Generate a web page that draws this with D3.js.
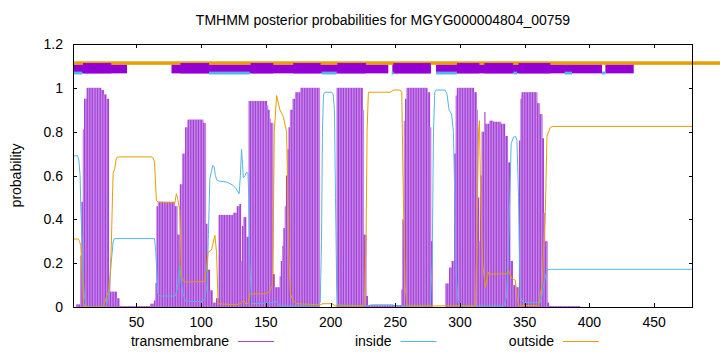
<!DOCTYPE html>
<html>
<head>
<meta charset="utf-8">
<script src="https://cdn.jsdelivr.net/npm/d3@7"></script>
<style>
  body { margin: 0; background: #fff; }
  svg { display: block; font-family: "Liberation Sans", Arial, sans-serif; }
  .lbl { font-size: 14px; fill: #000; }
</style>
</head>
<body>
<div id="chart"></div>
<script>
// sequence range and ticks
const seqRange = [1, 480];
const xTicks = [50, 100, 150, 200, 250, 300, 350, 400, 450];
const yTicks = [0, 0.2, 0.4, 0.6, 0.8, 1, 1.2];
const titleText = "TMHMM posterior probabilities for MGYG000004804_00759";
const legendLabels = ["transmembrane", "inside", "outside"];

// transmembrane probability as steps: [fromResidue, toResidue, prob]
const tmSteps = [
  [4, 6, 0.012], [7, 7, 0.235], [8, 8, 0.48], [9, 9, 0.81], [10, 11, 0.95],
  [12, 22, 1.0], [23, 24, 0.99], [25, 26, 0.97], [27, 28, 0.95], [29, 29, 0.12],
  [30, 34, 0.07], [35, 36, 0.04], [37, 60, 0.004], [61, 63, 0.015], [64, 64, 0.03],
  [65, 65, 0.11], [66, 66, 0.46], [67, 79, 0.48], [80, 81, 0.46], [82, 83, 0.33],
  [84, 85, 0.56], [86, 87, 0.7], [88, 89, 0.82], [90, 101, 0.855], [102, 103, 0.84],
  [104, 104, 0.38], [105, 106, 0.17], [107, 108, 0.076], [109, 111, 0.02], [112, 113, 0.04],
  [114, 124, 0.42], [125, 127, 0.43], [128, 129, 0.46], [130, 130, 0.47], [131, 131, 0.21],
  [132, 132, 0.37], [133, 134, 0.41], [135, 136, 0.32], [137, 150, 0.94], [151, 151, 0.92],
  [152, 152, 0.9], [153, 153, 0.86], [154, 155, 0.84], [156, 156, 0.15], [157, 160, 0.09],
  [161, 161, 0.14], [162, 162, 0.21], [163, 163, 0.28], [164, 164, 0.36], [165, 165, 0.46],
  [166, 166, 0.6], [167, 167, 0.72], [168, 168, 0.82], [169, 170, 0.9], [171, 172, 0.95],
  [173, 176, 0.98], [177, 191, 1.0], [205, 224, 1.0], [225, 225, 0.9], [226, 227, 0.33],
  [228, 228, 0.05], [229, 254, 0.008], [255, 255, 0.08], [256, 256, 0.4], [257, 257, 0.85],
  [258, 258, 0.95], [259, 274, 1.0], [275, 276, 0.98], [277, 277, 0.82], [278, 278, 0.3],
  [289, 291, 0.107], [292, 293, 0.18], [294, 295, 0.21], [296, 296, 0.7], [297, 297, 0.965],
  [298, 310, 1.0], [311, 312, 0.98], [313, 313, 0.9], [314, 314, 0.5], [315, 315, 0.3],
  [316, 316, 0.6], [317, 318, 0.8], [319, 319, 0.89], [320, 322, 0.836], [323, 325, 0.85],
  [326, 331, 0.845], [332, 334, 0.836], [335, 336, 0.78], [337, 338, 0.66], [339, 340, 0.21],
  [341, 342, 0.1], [343, 345, 0.09], [346, 346, 0.76], [347, 347, 0.95], [348, 359, 0.98],
  [360, 361, 0.93], [362, 363, 0.88], [364, 364, 0.77], [365, 365, 0.43], [366, 367, 0.3],
  [368, 368, 0.02], [369, 392, 0.004]
];

// inside probability [residue, prob]
const insidePoints = [
  [1, 0.69], [4.5, 0.69], [5.5, 0.67], [6.5, 0.6], [7, 0.46], [8, 0.3], [9, 0.12], [10, 0.04],
  [11, 0.01], [12, 0.0], [26, 0.0], [27.5, 0.02], [29, 0.08], [30.5, 0.2], [32, 0.3], [33, 0.312],
  [64, 0.312], [65, 0.25], [66.5, 0.06], [68, 0.05], [80, 0.05], [81.5, 0.08], [82.5, 0.14],
  [83.5, 0.19], [84.8, 0.1], [86, 0.06], [87.7, 0.03], [90, 0.025], [101, 0.025], [103, 0.04],
  [104.5, 0.1], [105.5, 0.3], [106.7, 0.585], [108, 0.62], [109, 0.646], [110, 0.64], [111, 0.6],
  [112, 0.58], [113.5, 0.575], [120, 0.57], [124.7, 0.555], [127, 0.54], [129.4, 0.517],
  [130.3, 0.6], [131.2, 0.72], [132, 0.65], [132.6, 0.59], [134, 0.6], [135, 0.615], [136.2, 0.61],
  [136.8, 0.5], [137.6, 0.2], [139, 0.02], [140, 0.015], [155, 0.02], [157, 0.025], [158.5, 0.025],
  [160, 0.005], [190, 0.005], [192, 0.02], [193, 0.3], [193.7, 0.8], [194.5, 0.97], [195.6, 0.98],
  [201, 0.98], [202, 0.97], [203, 0.9], [203.8, 0.5], [204.7, 0.1], [205.5, 0.01], [228, 0.005],
  [232, 0.01], [248, 0.01], [250, 0.005], [275, 0.005], [277, 0.01], [278.5, 0.2], [279.5, 0.8],
  [280.5, 0.98], [281.5, 0.99], [288.5, 0.99], [290, 0.97], [291.5, 0.9], [293.5, 0.88],
  [294.9, 0.8], [296, 0.5], [297, 0.15], [298.5, 0.02], [300, 0.005], [334, 0.005], [336, 0.05],
  [337, 0.2], [338.5, 0.5], [339.5, 0.745], [341.3, 0.775], [343, 0.778], [344, 0.76],
  [345.2, 0.5], [346.5, 0.045], [349, 0.02], [362, 0.02], [364, 0.076], [366, 0.14],
  [367.5, 0.17], [370, 0.172], [480, 0.172]
];

// outside probability [residue, prob]
const outsidePoints = [
  [1, 0.31], [5, 0.31], [6, 0.3], [7, 0.28], [8, 0.15], [9, 0.03], [10, 0.0], [24, 0.0],
  [25.5, 0.02], [27, 0.05], [28.5, 0.07], [29.5, 0.12], [30.6, 0.28], [31.5, 0.5], [32, 0.61],
  [33.2, 0.63], [34.5, 0.68], [36, 0.685], [62, 0.685], [63, 0.68], [64, 0.66], [65.4, 0.487],
  [66.5, 0.479], [79.6, 0.475], [80.9, 0.517], [82, 0.49], [83.5, 0.44], [84.8, 0.137],
  [87.3, 0.114], [102.8, 0.116], [104.5, 0.2], [105.4, 0.25], [108, 0.26], [110.6, 0.327],
  [111.9, 0.25], [113.1, 0.015], [127, 0.01], [130, 0.015], [133, 0.03], [135, 0.01],
  [136.5, 0.02], [137.6, 0.06], [140, 0.06], [149, 0.06], [153, 0.07], [155, 0.1], [155.7, 0.3],
  [156.5, 0.8], [158.3, 0.965], [160.8, 0.9], [163.4, 0.87], [166, 0.8], [167, 0.5], [168, 0.2],
  [169, 0.06], [171, 0.03], [173.8, 0.015], [192, 0.01], [194, 0.015], [201, 0.015], [204, 0.005],
  [226, 0.005], [227.4, 0.3], [228.2, 0.8], [229.2, 0.98], [246, 0.98], [248.5, 0.99],
  [253.7, 0.99], [255, 0.98], [256.2, 0.5], [257.6, 0.1], [258.9, 0.005], [312, 0.005],
  [313, 0.3], [314.3, 0.8], [315, 0.85], [316, 0.5], [317.5, 0.2], [319.5, 0.09], [322, 0.16],
  [323.3, 0.15], [336.2, 0.152], [337.5, 0.165], [340.1, 0.13], [342.7, 0.122], [344, 0.05],
  [345.2, 0.006], [360.7, 0.006], [363.3, 0.1], [365.9, 0.43], [367.2, 0.78], [369.8, 0.82],
  [372, 0.824], [480, 0.824]
];

// topology band above the curves (residue ranges)
const bandSegments = [[1.5, 42.7], [77.1, 244.6], [247.7, 277.4], [281.5, 409.7], [412.3, 434.2]];
const helixSegments = [[8.7, 30.6], [84, 106.1], [138.2, 155.7], [171.1, 192.3], [205.2, 227.4],
  [248.5, 277.4], [297.6, 315], [318.7, 340.9], [345.2, 369.8]];
const insideSegments = [[1, 8.2], [106.1, 137.6], [193.1, 204.7], [247.2, 248.9], [281.5, 297.6],
  [341.2, 344], [380.8, 386.5], [409.7, 412.3]];

const W = 720, H = 352;
const margin = { top: 44, right: 27, bottom: 45, left: 73 };
const width = W - margin.left - margin.right;
const height = H - margin.top - margin.bottom;

const colors = { tm: "#9400d3", tmDark: "#a542d9", tmLight: "#c585e6", legendTm: "#a744d6", inside: "#56b4e9", outside: "#e69f00" };

const svg = d3.select("#chart").append("svg").attr("width", W).attr("height", H);
const g = svg.append("g").attr("transform", `translate(${margin.left},${margin.top})`);

const x = d3.scaleLinear().domain(seqRange).range([0, width]);
const y = d3.scaleLinear().domain([0, 1.2]).range([height, 0]);

svg.append("defs").append("clipPath").attr("id", "clip")
  .append("rect").attr("width", width).attr("height", height);

// expand steps into one bar per residue
const tmBars = [];
tmSteps.forEach(([a, b, p]) => {
  for (let i = a; i <= b; i++) tmBars.push({ r: i, p: p });
});

const plot = g.append("g").attr("clip-path", "url(#clip)");

// bars overlap slightly so no white seams show between residues
plot.selectAll(".bar")
  .data(tmBars)
  .enter()
  .append("rect")
  .attr("class", "bar")
  .attr("x", (d) => x(d.r - 0.5))
  .attr("width", (d) => x(d.r + 0.5) - x(d.r - 0.5) + 0.5)
  .attr("y", (d) => y(d.p))
  .attr("height", (d) => y(0) - y(d.p))
  .attr("fill", (d) => (d.r % 2 ? colors.tmLight : colors.tmDark));

const line = d3.line().x((d) => x(d[0])).y((d) => y(d[1]));

plot.append("path").datum(insidePoints)
  .attr("d", line).attr("fill", "none")
  .attr("stroke", colors.inside).attr("stroke-width", 1);

plot.append("path").datum(outsidePoints)
  .attr("d", line).attr("fill", "none")
  .attr("stroke", colors.outside).attr("stroke-width", 1);

// topology band: outside line runs past the frame
g.append("rect")
  .attr("x", x(seqRange[0]))
  .attr("width", W - margin.left - x(seqRange[0]))
  .attr("y", y(1.121))
  .attr("height", y(1.105) - y(1.121))
  .attr("fill", colors.outside);

g.selectAll(".band")
  .data(bandSegments)
  .enter()
  .append("rect")
  .attr("x", (d) => x(d[0]))
  .attr("width", (d) => x(d[1]) - x(d[0]))
  .attr("y", y(1.105))
  .attr("height", y(1.066) - y(1.105))
  .attr("fill", colors.tm);

g.selectAll(".helix")
  .data(helixSegments)
  .enter()
  .append("rect")
  .attr("x", (d) => x(d[0]))
  .attr("width", (d) => x(d[1]) - x(d[0]))
  .attr("y", y(1.113))
  .attr("height", y(1.066) - y(1.113))
  .attr("fill", colors.tm);

g.selectAll(".inseg")
  .data(insideSegments)
  .enter()
  .append("rect")
  .attr("x", (d) => x(d[0]))
  .attr("width", (d) => x(d[1]) - x(d[0]))
  .attr("y", y(1.074))
  .attr("height", y(1.061) - y(1.074))
  .attr("fill", colors.inside);

// frame and inward ticks (mirrored)
const tickLen = 4;
const ticks = g.append("g").attr("stroke", "#000").attr("stroke-width", 1);
xTicks.forEach((t) => {
  const px = Math.round(x(t)) + 0.5;
  ticks.append("line").attr("x1", px).attr("x2", px).attr("y1", height).attr("y2", height - tickLen);
  ticks.append("line").attr("x1", px).attr("x2", px).attr("y1", 0).attr("y2", tickLen);
});
yTicks.forEach((t) => {
  const py = Math.round(y(t)) + 0.5;
  ticks.append("line").attr("x1", 0).attr("x2", tickLen).attr("y1", py).attr("y2", py);
  ticks.append("line").attr("x1", width).attr("x2", width - tickLen).attr("y1", py).attr("y2", py);
});

g.append("rect")
  .attr("x", 0.5).attr("y", 0.5)
  .attr("width", width - 1).attr("height", height)
  .attr("fill", "none").attr("stroke", "#000").attr("stroke-width", 1);

// tick labels
g.selectAll(".xlab")
  .data(xTicks)
  .enter()
  .append("text")
  .attr("class", "lbl")
  .attr("x", (d) => x(d))
  .attr("y", height + 20)
  .attr("text-anchor", "middle")
  .text((d) => d);

g.selectAll(".ylab")
  .data(yTicks)
  .enter()
  .append("text")
  .attr("class", "lbl")
  .attr("x", -10)
  .attr("y", (d) => y(d) + 5)
  .attr("text-anchor", "end")
  .text((d) => d);

// title and axis label
svg.append("text")
  .attr("class", "lbl")
  .attr("x", margin.left + width / 2)
  .attr("y", 25)
  .attr("text-anchor", "middle")
  .text(titleText);

svg.append("text")
  .attr("class", "lbl")
  .attr("transform", `translate(21,${margin.top + height / 2}) rotate(-90)`)
  .attr("text-anchor", "middle")
  .text("probability");

// legend
const legendColors = [colors.legendTm, colors.inside, colors.outside];
const legend = svg.append("g").attr("transform", "translate(238,341)");
legendLabels.forEach((lab, i) => {
  const lx = i * 162.5;
  legend.append("text").attr("class", "lbl")
    .attr("x", lx - 9).attr("y", 5)
    .attr("text-anchor", "end").text(lab);
  legend.append("line")
    .attr("x1", lx).attr("x2", lx + 36)
    .attr("y1", 0.5).attr("y2", 0.5)
    .attr("stroke", legendColors[i]).attr("stroke-width", 1);
});
</script>
</body>
</html>
